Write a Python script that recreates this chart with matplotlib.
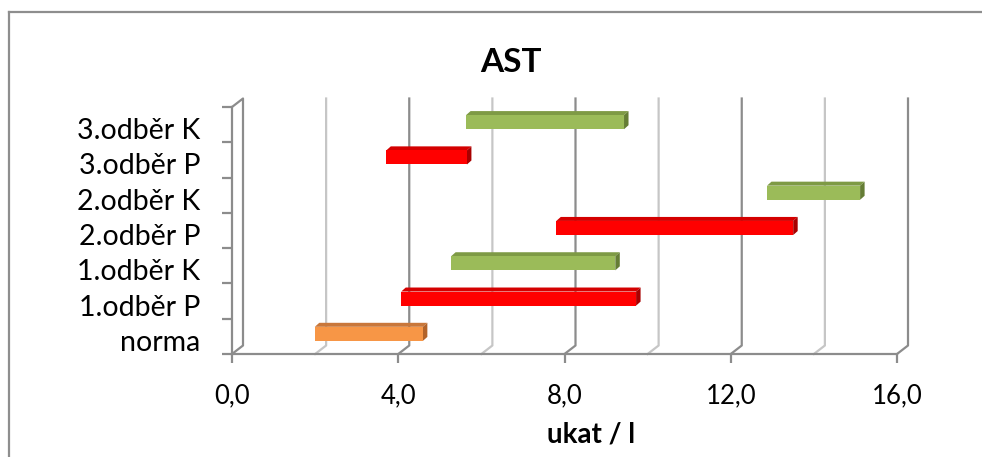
import numpy as np
import matplotlib
matplotlib.use("Agg")
import matplotlib.pyplot as plt
import matplotlib.transforms as mtransforms
from matplotlib.lines import Line2D
from matplotlib.patches import Polygon

plt.rcParams['font.family'] = ['Lato', 'DejaVu Sans']

# ---- data ----
categories = ["norma", "1.odběr P", "1.odběr K", "2.odběr P", "2.odběr K", "3.odběr P", "3.odběr K"]
starts = [1.92, 4.0, 5.2, 7.73, 12.8, 3.64, 5.56]
ends = [4.52, 9.65, 9.15, 13.43, 15.04, 5.58, 9.36]
face_colors = ["#F79646", "#FF0000", "#9BBB59", "#FF0000", "#9BBB59", "#FF0000", "#9BBB59"]
top_colors = ["#C9773A", "#D40000", "#7E9A45", "#D40000", "#7E9A45", "#D40000", "#7E9A45"]
side_colors = ["#B2632A", "#A80000", "#657D35", "#A80000", "#657D35", "#A80000", "#657D35"]
xticks = [0, 4, 8, 12, 16]
xtick_labels = ["0,0", "4,0", "8,0", "12,0", "16,0"]
minor_grid = [2, 6, 10, 14]
major_grid = [4, 8, 12, 16]
title = "AST"
xlabel = "ukat / l"

W, H = 982, 457
DPI = 100
fig = plt.figure(figsize=(W / DPI, H / DPI), dpi=DPI)
fig.patch.set_facecolor("white")

# front plane of the 3D box
L, R, T, B = 232, 897, 107, 354
ax = fig.add_axes([L / W, 1 - B / H, (R - L) / W, (B - T) / H])
ax.set_xlim(0, 16)
ax.set_ylim(-0.5, len(categories) - 0.5)
ax.patch.set_alpha(0)

pxx = 16 / (R - L)                 # data units per pixel (x)
pxy = len(categories) / (B - T)    # data units per pixel (y)

# depth offset of the back wall
ddx, ddy = 11 * pxx, 8.5 * pxy
y0, y1 = -0.5, len(categories) - 0.5

major_c = "#8C8C8C"
minor_c = "#C6C6C6"
for v in minor_grid:
    ax.plot([v, v + ddx, v + ddx], [y0, y0 + ddy, y1 + ddy], color=minor_c, lw=1.6, clip_on=False, zorder=1)
for v in major_grid:
    ax.plot([v, v + ddx, v + ddx], [y0, y0 + ddy, y1 + ddy], color=major_c, lw=1.6, clip_on=False, zorder=1)
# left wall
ax.plot([0, ddx, ddx, 0], [y0, y0 + ddy, y1 + ddy, y1], color=major_c, lw=1.6, clip_on=False, zorder=1)

for s in ["top", "right"]:
    ax.spines[s].set_visible(False)
for s in ["left", "bottom"]:
    ax.spines[s].set_color(major_c)
    ax.spines[s].set_linewidth(1.6)

# bars: front face via barh, plus top and side faces for the 3D look
face_off = mtransforms.ScaledTranslation(3 / DPI, 2.5 / DPI, fig.dpi_scale_trans)
ypos = np.arange(len(categories))
widths = np.array(ends) - np.array(starts)
bh = 0.4
bars = ax.barh(ypos, widths, left=starts, height=bh, color=face_colors,
               transform=ax.transData + face_off, zorder=4, clip_on=False)
bdx, bdy = 4.5 * pxx, 4 * pxy
for x0, x1, yc, tc, sc in zip(starts, ends, ypos, top_colors, side_colors):
    yt, yb = yc + bh / 2, yc - bh / 2
    top = Polygon([(x0, yt), (x1, yt), (x1 + bdx, yt + bdy), (x0 + bdx, yt + bdy)],
                  closed=True, facecolor=tc, edgecolor="none",
                  transform=ax.transData + face_off, zorder=3, clip_on=False)
    side = Polygon([(x1, yb), (x1, yt), (x1 + bdx, yt + bdy), (x1 + bdx, yb + bdy)],
                   closed=True, facecolor=sc, edgecolor="none",
                   transform=ax.transData + face_off, zorder=3, clip_on=False)
    ax.add_patch(top)
    ax.add_patch(side)

# ticks
ax.set_xticks(xticks, labels=xtick_labels)
ax.tick_params(axis="x", direction="out", length=6.5, width=1.6, color=major_c,
               labelsize=18.5, pad=14.5)
ax.set_yticks(ypos, labels=categories)
ax.set_yticks(np.arange(len(categories) + 1) - 0.5, minor=True)
ax.tick_params(axis="y", which="major", length=0, labelsize=20.5, pad=23)
ax.tick_params(axis="y", which="minor", direction="out", length=7.5, width=1.6, color=major_c)
for lbl in ax.get_yticklabels():
    lbl.set_transform(lbl.get_transform() + mtransforms.ScaledTranslation(0, -4 / DPI, fig.dpi_scale_trans))

fig.text(511 / W, 1 - 72 / H, title, ha="center", va="baseline", fontsize=24, fontweight="bold")
fig.text(591 / W, 1 - 443 / H, xlabel, ha="center", va="baseline", fontsize=20, fontweight="bold")

# chart border (top and left visible)
bc = "#8E8E8E"
fig.add_artist(Line2D([9 / W, 1], [1 - 12 / H, 1 - 12 / H], color=bc, lw=1.6))
fig.add_artist(Line2D([9 / W, 9 / W], [1 - 12 / H, 0], color=bc, lw=1.6))

fig.savefig("out.png", dpi=DPI, facecolor="white")
